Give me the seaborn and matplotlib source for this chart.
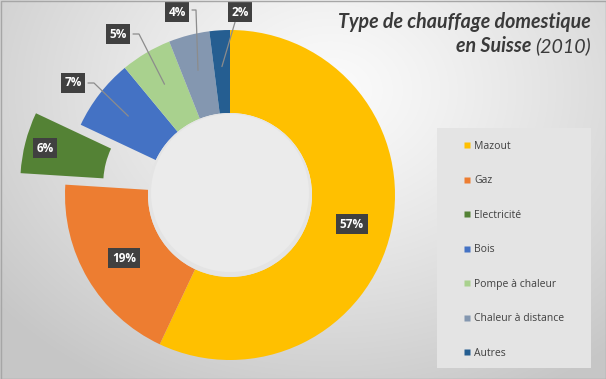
import numpy as np
import matplotlib
matplotlib.use("Agg")
import matplotlib.pyplot as plt
import seaborn as sns
from matplotlib.patches import Rectangle, Circle
from matplotlib.lines import Line2D

categories = ["Mazout", "Gaz", "Electricité", "Bois", "Pompe à chaleur", "Chaleur à distance", "Autres"]
values = [57, 19, 6, 7, 5, 4, 2]
labels = ["57%", "19%", "6%", "7%", "5%", "4%", "2%"]
colors = ["#FFC000", "#ED7D31", "#548235", "#4472C4", "#A9D18E", "#8497B0", "#255E91"]
explode = [0, 0, 0.28, 0, 0, 0, 0]

sns.set_style("white")
plt.rcParams['font.family'] = ['Open Sans', 'DejaVu Sans']
palette = sns.color_palette(colors)

W, H = 606, 379
fig = plt.figure(figsize=(W / 100, H / 100), dpi=100)
ax = fig.add_axes([0, 0, 1, 1])

# background radial gradient
yy, xx = np.mgrid[0:H, 0:W]
d = np.sqrt(((xx - 330) / 420.0) ** 2 + ((yy - 90) / 330.0) ** 2)
g = np.clip(0.985 - 0.2 * d ** 1.2, 0.78, 1.0)
bg = np.dstack([g, g, g])
ax.imshow(bg, extent=(0, W, 0, H), origin="upper", zorder=0, aspect="auto")

cx, cy, R = 230, 184, 165
width = 83

wedges, _ = ax.pie(values, colors=palette, startangle=90, counterclock=False,
                   explode=[e * R for e in explode], radius=R, center=(cx, cy),
                   wedgeprops=dict(width=width, linewidth=0, zorder=2), frame=True)

# inner hole
ax.add_patch(Circle((cx, cy), R - width, fc="#e4e4e4", ec="none", zorder=3))
ax.add_patch(Circle((cx, cy + 2), R - width - 3, fc="#ebebeb", ec="none", zorder=3))

# label positions (pixel coords, y from top) and leader line flags
label_pos = [(352, 224), (124, 258), (45, 148), (73, 83), (118, 34), (177, 12), (240, 12)]
leader = [False, False, False, True, True, True, True]

total = float(sum(values))
cum = 0.0
for i, (v, lab) in enumerate(zip(values, labels)):
    mid = (cum + v / 2) / total
    cum += v
    ang = np.deg2rad(90 - 360 * mid)
    lx, ly = label_pos[i]
    ly_d = H - ly
    ax.text(lx, ly_d, lab, ha="center", va="center", color="white", fontsize=8.5,
            fontweight="bold", zorder=6,
            bbox=dict(boxstyle="square,pad=0.3", fc="#404040", ec="none"))
    if leader[i]:
        ar = 0.78 * R
        axp = cx + ar * np.cos(ang)
        ayp = cy + ar * np.sin(ang)
        if i == 6:
            sx = lx - 2
            pts_x = [sx, axp]
            pts_y = [ly_d, ayp]
        elif i == 5:
            sx = lx + 15
            pts_x = [sx, sx + 4, axp]
            pts_y = [ly_d + 2, ly_d + 2, ayp]
        else:
            sx = lx + 15
            pts_x = [sx, sx + 6, axp]
            pts_y = [ly_d, ly_d, ayp]
        ax.plot(pts_x, pts_y, color="#8c8c8c", lw=0.9, zorder=5)

# title
tfont = ["Lato", "DejaVu Sans"]
ax.text(591, H - 22, "Type de chauffage domestique", ha="right", va="center",
        fontsize=14.1, fontweight="bold", fontstyle="italic", color="#3a3a3a",
        family=tfont, zorder=6)
t2 = ax.text(591, H - 46, "(2010)", ha="right", va="center",
             fontsize=14.1, fontstyle="italic", color="#3a3a3a",
             family=tfont, zorder=6)
fig.canvas.draw()
bb = t2.get_window_extent()
x2 = ax.transData.inverted().transform((bb.x0, 0))[0]
ax.text(x2 - 4, H - 46, "en Suisse", ha="right", va="center",
        fontsize=14.1, fontweight="bold", fontstyle="italic", color="#3a3a3a",
        family=tfont, zorder=6)

# legend background
ax.add_patch(Rectangle((437, H - 368), 154, 240, fc="#e4e4e4", ec="none", zorder=1))
handles = [Line2D([0], [0], marker="s", linestyle="none", markersize=4.5,
                  markerfacecolor=c, markeredgecolor="none") for c in colors]
leg = ax.legend(handles, categories, loc="upper left", bbox_to_anchor=(464 / W, 1 - 141 / H),
                frameon=False, fontsize=7.5, labelspacing=2.25, handlelength=0.6,
                handletextpad=0.35, borderpad=0, borderaxespad=0)
for t in leg.get_texts():
    t.set_color("#404040")

ax.set_xlim(0, W)
ax.set_ylim(0, H)
ax.set_aspect("auto")
ax.axis("off")
# outer border
ax.add_patch(Rectangle((0.5, 0.5), W - 1, H - 1, fc="none", ec="#a6a6a6", lw=1, zorder=7))

fig.savefig("out.png", dpi=100)
